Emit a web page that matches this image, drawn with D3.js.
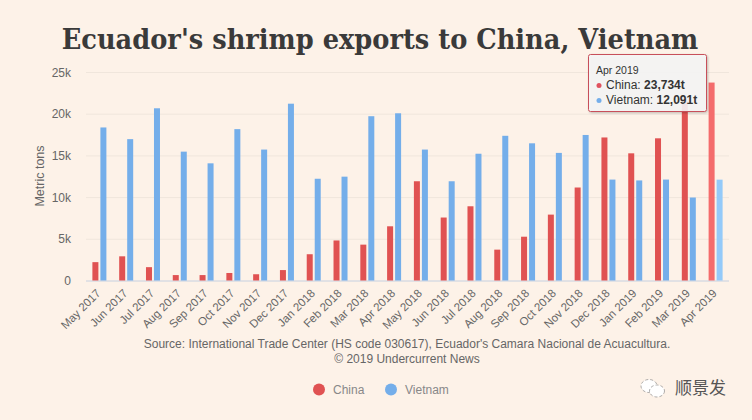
<!DOCTYPE html>
<html><head><meta charset="utf-8">
<script src="https://cdnjs.cloudflare.com/ajax/libs/d3/7.8.5/d3.min.js"></script>
<style>html,body{margin:0;padding:0;background:#fdf2e8;overflow:hidden}
svg{display:block}text{font-family:"Liberation Sans",Arial,sans-serif}</style></head>
<body><svg id="c" width="752" height="420"></svg>
<script>
const months=["May 2017","Jun 2017","Jul 2017","Aug 2017","Sep 2017","Oct 2017","Nov 2017","Dec 2017","Jan 2018","Feb 2018","Mar 2018","Apr 2018","May 2018","Jun 2018","Jul 2018","Aug 2018","Sep 2018","Oct 2018","Nov 2018","Dec 2018","Jan 2019","Feb 2019","Mar 2019","Apr 2019"];
const china=[2200,2900,1600,650,650,900,750,1250,3150,4800,4300,6500,11900,7550,8900,3700,5250,7900,11150,17150,15250,17050,21500,23734];
const vietnam=[18350,16950,20650,15450,14050,18150,15700,21200,12200,12450,19700,20050,15700,11900,15200,17350,16450,15300,17450,12100,12000,12100,9950,12091];
const yTicks=[0,5000,10000,15000,20000,25000];
const seriesNames=["China","Vietnam"];
const seriesColors=["#e05252","#74aeea"];
const hoverColors=["#f46c6c","#94caf9"];
const title="Ecuador's shrimp exports to China, Vietnam";
const sourceLines=["Source: International Trade Center (HS code 030617), Ecuador's Camara Nacional de Acuacultura.","© 2019 Undercurrent News"];

const svg=d3.select("#c");
const x=d3.scaleBand().domain(months).range([86,729]);
const y=d3.scaleLinear().domain([0,25000]).range([280.5,72]);
const hi=months.length-1;

const titleEl=svg.append("text").attr("text-anchor","middle")
  .style("font-family","'DejaVu Serif',serif").style("font-weight","bold").style("font-size","28px").attr("fill","#3a3a3a").text(title);
const titleScale=637/titleEl.node().getComputedTextLength();
titleEl.attr("transform",`translate(380,49) scale(${titleScale},1)`);

// grid
svg.append("g").selectAll("line").data(yTicks.slice(1)).join("line")
  .attr("x1",86).attr("x2",729).attr("y1",d=>y(d)+.5).attr("y2",d=>y(d)+.5).attr("stroke","#f0e6dc");
svg.append("line").attr("x1",86).attr("x2",729).attr("y1",281).attr("y2",281).attr("stroke","#c6d0e0");

// y labels
svg.append("g").selectAll("text").data(yTicks).join("text")
  .attr("x",71).attr("y",d=>y(d)+4.5).attr("text-anchor","end").style("font-size","12px").attr("fill","#666666")
  .text(d=>d===0?"0":(d/1000)+"k");
svg.append("text").attr("transform","translate(44,176) rotate(-90)").attr("text-anchor","middle")
  .style("font-size","12.5px").attr("fill","#666666").text("Metric tons");

// x labels
svg.append("g").selectAll("text").data(months).join("text")
  .attr("transform",d=>`translate(${x(d)+x.bandwidth()/2+2},${294}) rotate(-45)`)
  .attr("text-anchor","end").style("font-size","11.5px").attr("fill","#666666").text(d=>d);

// bars
const bw=6,gap=2;
[china,vietnam].forEach((vals,s)=>{
  svg.append("g").selectAll("rect").data(vals).join("rect")
    .attr("x",(d,i)=>x(months[i])+x.bandwidth()/2-bw-gap/2+s*(bw+gap))
    .attr("width",bw).attr("y",d=>y(d)).attr("height",d=>y(0)-y(d))
    .attr("fill",(d,i)=>i===hi?hoverColors[s]:seriesColors[s]);
});

// source
svg.append("g").selectAll("text").data(sourceLines).join("text")
  .attr("x",407).attr("y",(d,i)=>348+i*15).attr("text-anchor","middle").style("font-size","12px").attr("fill","#666666").text(d=>d);

// legend
const legX=[319,391];
seriesNames.forEach((n,i)=>{
  svg.append("circle").attr("cx",legX[i]).attr("cy",389.5).attr("r",6).attr("fill",seriesColors[i]);
  svg.append("text").attr("x",legX[i]+14).attr("y",394).style("font-size","12px").attr("fill","#888888").text(n);
});

// tooltip
const defs=svg.append("defs");
const f=defs.append("filter").attr("id","sh").attr("x","-10%").attr("y","-10%").attr("width","125%").attr("height","130%");
f.append("feDropShadow").attr("dx",1).attr("dy",1).attr("stdDeviation",1.2).attr("flood-color","#000").attr("flood-opacity",.25);
const t=svg.append("g").attr("transform","translate(588,54)");
t.append("rect").attr("x",.5).attr("y",.5).attr("width",118).attr("height",57).attr("rx",2)
  .attr("fill","#f7f7f7").attr("fill-opacity",.88).attr("stroke","#c8505a").attr("stroke-width",1).attr("filter","url(#sh)");
t.append("text").attr("x",8).attr("y",20).style("font-size","10.5px").attr("fill","#333333").text(months[hi]);
[china[hi],vietnam[hi]].forEach((v,i)=>{
  const yy=35+i*15;
  t.append("circle").attr("cx",11).attr("cy",yy-3.5).attr("r",2.5).attr("fill",i===0?"#e0525f":seriesColors[1]);
  const tx=t.append("text").attr("x",18).attr("y",yy).style("font-size","12px").attr("fill","#333333");
  tx.append("tspan").text(seriesNames[i]+": ");
  tx.append("tspan").style("font-weight","bold").text(d3.format(",")(v)+"t");
});

// watermark
const w=svg.append("g").attr("transform","translate(640,378)");
w.append("ellipse").attr("cx",9).attr("cy",8).attr("rx",8).attr("ry",6.5).attr("fill","#fff").attr("stroke","#777").attr("stroke-width",.6).attr("stroke-dasharray","3 2");
w.append("ellipse").attr("cx",17).attr("cy",13).attr("rx",7.5).attr("ry",6).attr("fill","#fff").attr("stroke","#777").attr("stroke-width",.6).attr("stroke-dasharray","3 2");
svg.append("text").attr("x",675).attr("y",394).style("font-family","'Noto Sans CJK SC'").style("font-size","17px").attr("fill","#555555").text("顺景发");
</script></body></html>
